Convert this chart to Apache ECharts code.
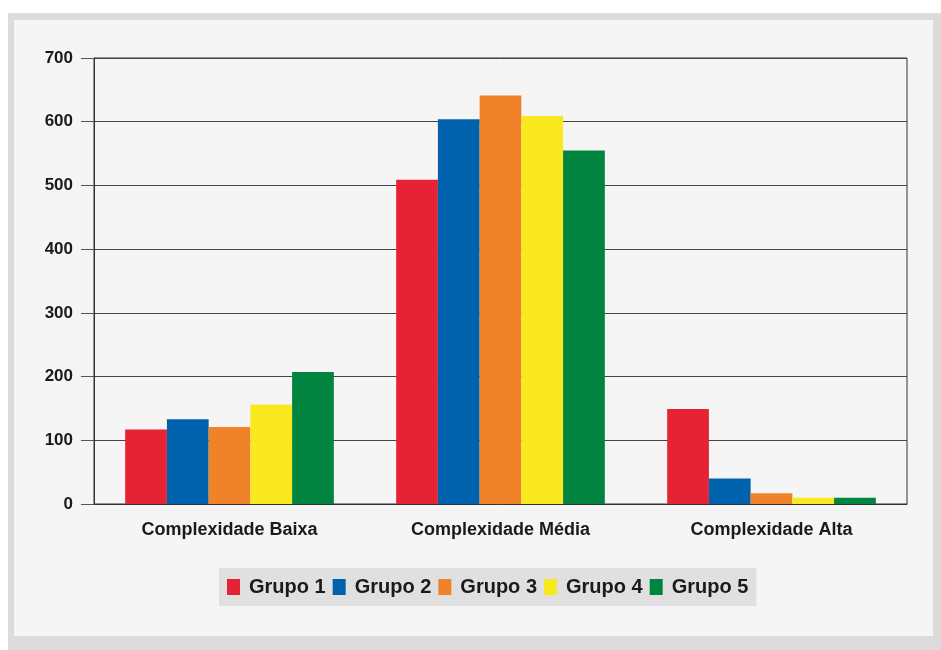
<!DOCTYPE html>
<html><head><meta charset="utf-8">
<script src="https://cdn.jsdelivr.net/npm/echarts@6/dist/echarts.min.js"></script>
<style>html,body{margin:0;padding:0;background:#fff}#c{width:941px;height:650px}</style>
</head><body><div id="c"></div>
<script>
const categories = ['Complexidade Baixa', 'Complexidade Média', 'Complexidade Alta'];
const seriesNames = ['Grupo 1', 'Grupo 2', 'Grupo 3', 'Grupo 4', 'Grupo 5'];
const grupo1 = [117, 509, 149];
const grupo2 = [133, 604, 40];
const grupo3 = [121, 641, 17];
const grupo4 = [156, 609, 10];
const grupo5 = [207, 555, 10];
const yTicks = [0, 100, 200, 300, 400, 500, 600, 700];

const values = [grupo1, grupo2, grupo3, grupo4, grupo5];
const colors = ['#e52335', '#0062ad', '#f0832a', '#fbe920', '#00843f'];
const font = 'Liberation Sans, Arial, Helvetica, sans-serif';

const chart = echarts.init(document.getElementById('c'), null, {renderer: 'canvas'});
chart.setOption({
  animation: false,
  backgroundColor: '#ffffff',
  graphic: [
    {type: 'rect', z: -10, silent: true, shape: {x: 8, y: 13, width: 933, height: 637}, style: {fill: '#dcdcdc'}},
    {type: 'rect', z: -9, silent: true, shape: {x: 14, y: 20, width: 919, height: 616}, style: {fill: '#f5f5f5'}}
  ],
  grid: {left: 94, right: 34, top: 58, bottom: 146, show: true, borderColor: '#333', borderWidth: 1, backgroundColor: 'transparent'},
  legend: {
    data: seriesNames,
    left: 219, top: 568,
    backgroundColor: '#e0e0e0',
    padding: [9, 8, 9, 8],
    itemGap: 7,
    itemWidth: 13, itemHeight: 16,
    icon: 'rect',
    textStyle: {fontFamily: font, fontWeight: 'bold', fontSize: 20, color: '#1a1a1a', padding: [0, 0, 0, 4]}
  },
  xAxis: {
    type: 'category',
    data: categories,
    axisLine: {show: true, lineStyle: {color: '#333', width: 1}},
    axisTick: {show: false},
    axisLabel: {fontFamily: font, fontWeight: 'bold', fontSize: 18, color: '#1a1a1a', margin: 17}
  },
  yAxis: {
    type: 'value',
    min: yTicks[0], max: yTicks[yTicks.length - 1], interval: 100,
    axisLine: {show: true, lineStyle: {color: '#333', width: 1}},
    axisTick: {show: true, length: 13, lineStyle: {color: '#555'}},
    axisLabel: {fontFamily: font, fontWeight: 'bold', fontSize: 17, color: '#1a1a1a', margin: 21},
    splitLine: {show: true, lineStyle: {color: '#444', width: 1}}
  },
  series: seriesNames.map((n, i) => ({
    name: n,
    type: 'bar',
    data: values[i],
    barGap: '0%',
    barCategoryGap: '23%',
    itemStyle: {color: colors[i]}
  }))
});
</script></body></html>
